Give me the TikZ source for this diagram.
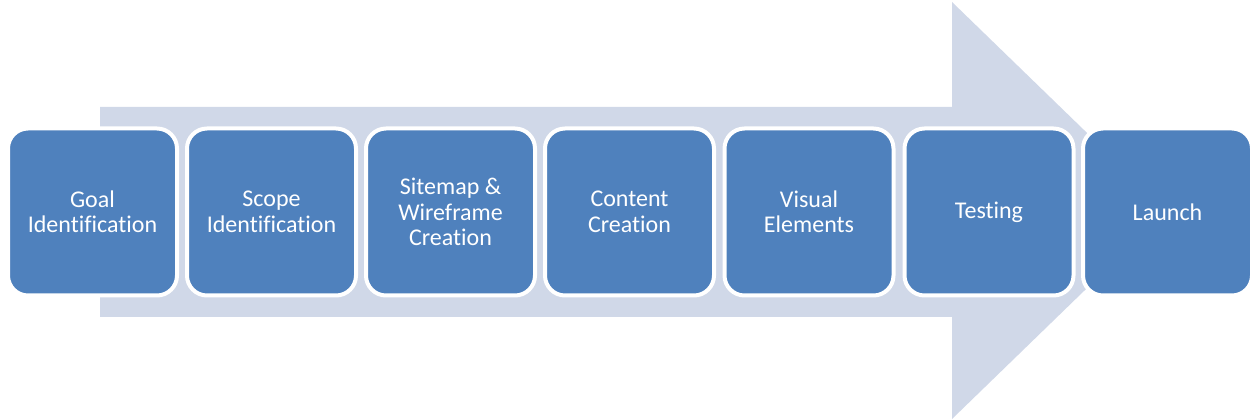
\documentclass[tikz,border=0pt]{standalone}
\usepackage{fontspec}
\setmainfont[Ligatures=NoCommon]{Carlito}
\definecolor{boxblue}{HTML}{4F81BD}
\definecolor{arrowgray}{HTML}{D0D8E8}
\begin{document}
\begin{tikzpicture}[x=1pt,y=-1pt,
  stagebox/.style={rounded corners=20pt, fill=boxblue, draw=white, line width=4pt,
    minimum width=169pt, minimum height=167pt, text=white, align=center,
    font=\fontsize{24}{25.5}\selectfont, inner sep=0pt}]
\useasboundingbox (0,0) rectangle (1250,419);
\fill[arrowgray] (100,107) -- (952,107) -- (952,2) -- (1167,210.5) -- (952,419) -- (952,317) -- (100,317) -- cycle;
\node[stagebox] (goal) at (92.5,212) {Goal\\Identification};
\node[stagebox] (scope) at (271.5,212) {Scope\\Identification};
\node[stagebox] (sitemap) at (450.5,212) {Sitemap \&\\Wireframe\\Creation};
\node[stagebox] (content) at (629.5,212) {Content\\Creation};
\node[stagebox] (visual) at (809,212) {Visual\\Elements};
\node[stagebox] (testing) at (989,212) {Testing};
\node[stagebox] (launch) at (1167.5,212) {Launch};
\end{tikzpicture}
\end{document}
